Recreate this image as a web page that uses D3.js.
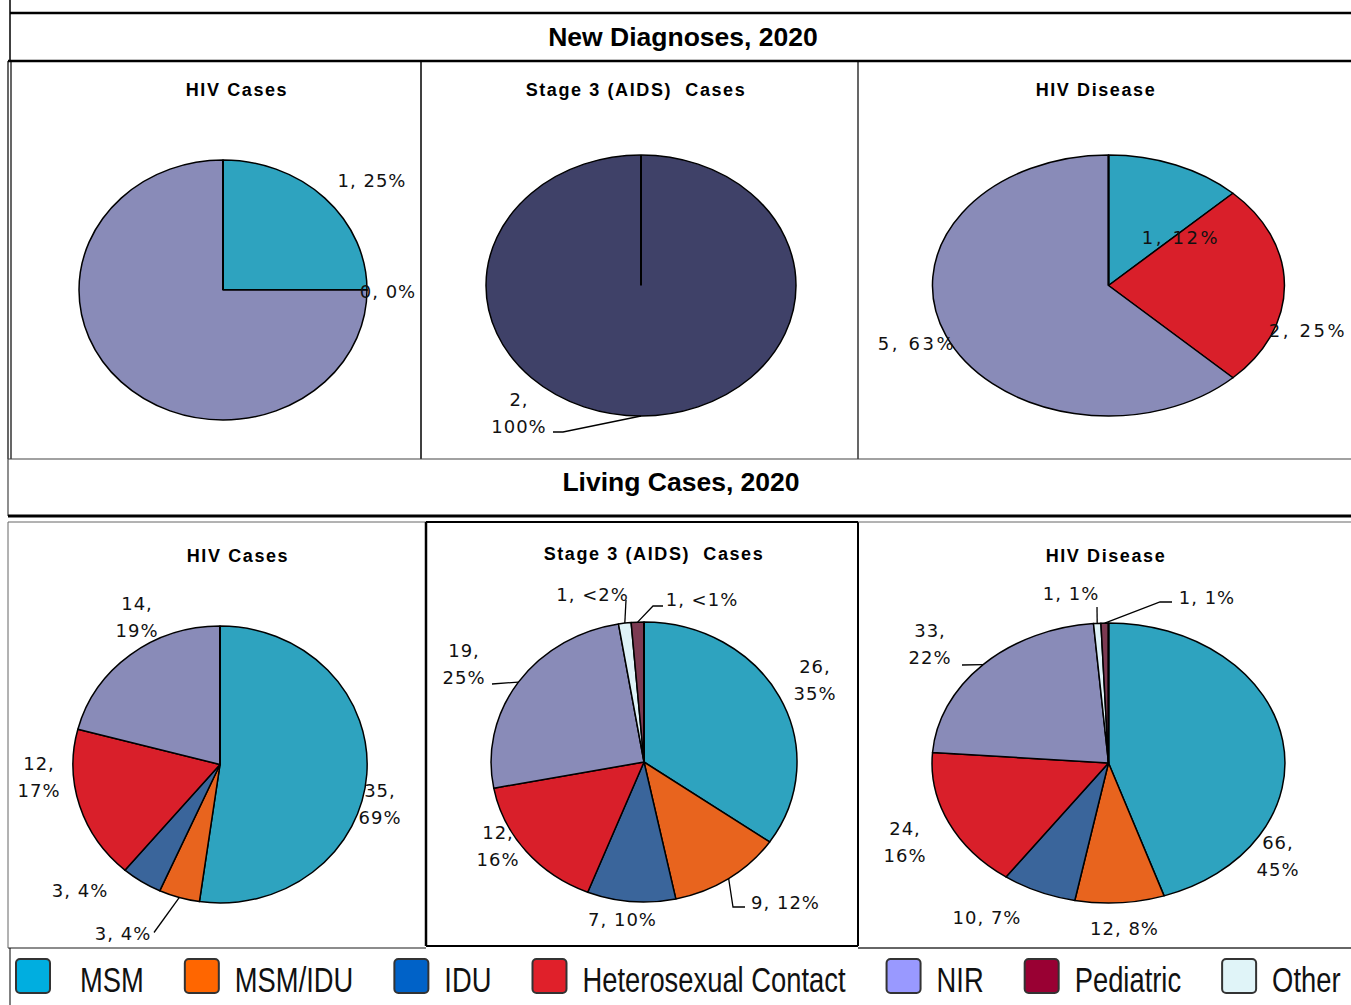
<!DOCTYPE html>
<html>
<head>
<meta charset="utf-8">
<script src="https://cdn.jsdelivr.net/npm/d3@7"></script>
<style>
  body { margin: 0; background: #fff; }
  svg { display: block; }
</style>
</head>
<body>
<div id="chart"></div>
<script>
// legend order of the transmission categories
var categories = ["MSM", "MSM/IDU", "IDU", "Heterosexual Contact", "NIR", "Pediatric", "Other"];
// order the slices go round the pie, clockwise from 12 o'clock
var sliceOrder = ["MSM", "MSM/IDU", "IDU", "Heterosexual Contact", "NIR", "Other", "Pediatric"];

// New Diagnoses, 2020 (null = category not in that chart)
var newHivCounts = [1, null, null, 0, 3, null, null];
var newHivPct = ["25%", null, null, "0%", null, null, null];
var newStage3Cats = ["Stage 3"];
var newStage3Counts = [2];
var newStage3Pct = ["100%"];
var newDiseaseCounts = [1, null, null, 2, 5, null, null];
var newDiseasePct = ["12%", null, null, "25%", "63%", null, null];

// Living Cases, 2020
var livingHivCounts = [35, 3, 3, 12, 14, null, null];
var livingHivPct = ["69%", "4%", "4%", "17%", "19%", null, null];
var livingStage3Counts = [26, 9, 7, 12, 19, 1, 1];
var livingStage3Pct = ["35%", "12%", "10%", "16%", "25%", "<2%", "<1%"];
var livingDiseaseCounts = [66, 12, 10, 24, 33, 1, 1];
var livingDiseasePct = ["45%", "8%", "7%", "16%", "22%", "1%", "1%"];

// colours of the pie slices and of the legend boxes
var sliceColor = {
  "MSM": "#2ea3bf", "MSM/IDU": "#e8641e", "IDU": "#3a659b",
  "Heterosexual Contact": "#d91f2a", "NIR": "#898bb8",
  "Pediatric": "#7c3a52", "Other": "#dff3f8", "Stage 3": "#3f4168"
};
var legendColor = {
  "MSM": "#00aee0", "MSM/IDU": "#ff6600", "IDU": "#0062c8",
  "Heterosexual Contact": "#e0202a", "NIR": "#9999ff",
  "Pediatric": "#990033", "Other": "#e0f4f8"
};

var width = 1351, height = 1005;
var svg = d3.select("#chart").append("svg")
  .attr("width", width)
  .attr("height", height);

// ---- frame lines of the table the charts sit in ----
function rule(x1, y1, x2, y2, w, c) {
  svg.append("line")
    .attr("x1", x1).attr("y1", y1).attr("x2", x2).attr("y2", y2)
    .attr("stroke", c || "#000").attr("stroke-width", w);
}
rule(10, 0, 10, 61, 1.5);
rule(10, 13, 1351, 13, 2.5);
rule(8, 61, 1351, 61, 2.5);
rule(8, 61, 8, 459, 1.2); rule(11, 61, 11, 459, 1.2);
rule(421, 61, 421, 459, 1.5);
rule(858, 61, 858, 459, 1.2);
rule(8, 459, 1351, 459, 1.2, "#444");
rule(8, 459, 8, 516, 1.2, "#444");
rule(8, 516, 1351, 516, 3);
rule(8, 522, 426, 522, 1, "#666");
rule(8, 522, 8, 948, 1, "#666");
rule(8, 948, 426, 948, 1.5, "#666");
rule(426, 522, 858, 522, 2);
rule(426, 522, 426, 946, 2.5);
rule(858, 522, 858, 946, 2);
rule(426, 946, 858, 946, 2);
rule(858, 522, 1351, 522, 1, "#666");
rule(858, 948, 1351, 948, 2, "#666");
rule(10, 948, 10, 1005, 1);

// section banners
svg.selectAll(".banner")
  .data([{ t: "New Diagnoses, 2020", x: 683, y: 46 }, { t: "Living Cases, 2020", x: 681, y: 491 }])
  .enter().append("text")
  .attr("class", "banner")
  .attr("x", function (d) { return d.x; })
  .attr("y", function (d) { return d.y; })
  .attr("text-anchor", "middle")
  .attr("font-family", "Liberation Sans, Arial, sans-serif")
  .attr("font-weight", "bold")
  .attr("font-size", 26.5)
  .text(function (d) { return d.t; });

// ---- pie panels: values + where each one sits ----
var panels = [
  { title: "HIV Cases", tx: 237, ty: 96, cats: sliceOrder, counts: newHivCounts, pct: newHivPct,
    cx: 223, cy: 290, rx: 144, ry: 130, ls: 1,
    labels: { "MSM": { at: [149, -110] }, "Heterosexual Contact": { at: [165, 1] } } },
  { title: "Stage 3 (AIDS)  Cases", tx: 636, ty: 96, cats: newStage3Cats, counts: newStage3Counts, pct: newStage3Pct,
    cx: 641, cy: 285.5, rx: 155, ry: 130.5, ls: 1,
    labels: { "Stage 3": { at: [-122, 127], wrap: true, leader: [[-78, 146.5], [-88, 146.5]] } } },
  { title: "HIV Disease", tx: 1096, ty: 96, cats: sliceOrder, counts: newDiseaseCounts, pct: newDiseasePct,
    cx: 1108.5, cy: 285.5, rx: 176, ry: 130.5, ls: 2.6,
    labels: { "MSM": { at: [72.5, -48.5] }, "Heterosexual Contact": { at: [199.5, 44.5] }, "NIR": { at: [-191.5, 57.5] } } },
  { title: "HIV Cases", tx: 238, ty: 562, cats: sliceOrder, counts: livingHivCounts, pct: livingHivPct,
    cx: 220, cy: 764.5, rx: 147, ry: 138.5, ls: 1,
    labels: {
      "MSM": { at: [160, 39], wrap: true },
      "MSM/IDU": { at: [-97, 168.5], leader: [[-66, 168]] },
      "IDU": { at: [-140, 125.5] },
      "Heterosexual Contact": { at: [-181, 12], wrap: true },
      "NIR": { at: [-83, -148], wrap: true }
    } },
  { title: "Stage 3 (AIDS)  Cases", tx: 654, ty: 560, cats: sliceOrder, counts: livingStage3Counts, pct: livingStage3Pct,
    cx: 644, cy: 762, rx: 153, ry: 140, ls: 1,
    labels: {
      "MSM": { at: [171, -82.5], wrap: true },
      "MSM/IDU": { at: [141.5, 140], leader: [[89, 145], [101, 145]] },
      "IDU": { at: [-21.5, 157] },
      "Heterosexual Contact": { at: [-146, 84], wrap: true },
      "NIR": { at: [-180, -98.5], wrap: true, leader: [[-152, -78]] },
      "Other": { at: [-51.5, -168], leader: [[-18, -162]] },
      "Pediatric": { at: [58, -163], leader: [[9, -156], [19, -156]] }
    } },
  { title: "HIV Disease", tx: 1106, ty: 562, cats: sliceOrder, counts: livingDiseaseCounts, pct: livingDiseasePct,
    cx: 1108.5, cy: 763, rx: 176.5, ry: 140, ls: 1,
    labels: {
      "MSM": { at: [169.5, 92.5], wrap: true },
      "MSM/IDU": { at: [16, 165] },
      "IDU": { at: [-121.5, 154] },
      "Heterosexual Contact": { at: [-203.5, 78.5], wrap: true },
      "NIR": { at: [-178.5, -119], wrap: true, leader: [[-146.5, -98]] },
      "Other": { at: [-37.5, -170], leader: [[-11.5, -156]] },
      "Pediatric": { at: [98.5, -166], leader: [[51.5, -161], [63.5, -161]] }
    } }
];

var pie = d3.pie().sort(null).value(function (d) { return d.v; });
var arc = d3.arc().innerRadius(0).outerRadius(1);

panels.forEach(function (p) {
  // panel title
  svg.append("text")
    .attr("x", p.tx).attr("y", p.ty)
    .attr("text-anchor", "middle")
    .attr("font-family", "Liberation Sans, Arial, sans-serif")
    .attr("font-weight", "bold")
    .attr("font-size", 18)
    .attr("letter-spacing", 1.6)
    .style("white-space", "pre")
    .text(p.title);

  var rows = [];
  p.cats.forEach(function (c, i) {
    if (p.counts[i] !== null) rows.push({ cat: c, v: p.counts[i], pct: p.pct[i] });
  });
  var arcs = pie(rows);

  // the pie is drawn on a unit circle and stretched into an ellipse
  var g = svg.append("g")
    .attr("transform", "translate(" + p.cx + "," + p.cy + ") scale(" + p.rx + "," + p.ry + ")");
  g.selectAll("path")
    .data(arcs)
    .enter().append("path")
    .attr("d", arc)
    .attr("fill", function (d) { return sliceColor[d.data.cat]; })
    .attr("stroke", "#000")
    .attr("stroke-width", 1.5)
    .attr("stroke-linejoin", "round")
    .attr("vector-effect", "non-scaling-stroke");
  // radius at 12 o'clock (start of first slice)
  g.append("line")
    .attr("x1", 0).attr("y1", 0).attr("x2", 0).attr("y2", -1)
    .attr("stroke", "#000").attr("stroke-width", 2)
    .attr("vector-effect", "non-scaling-stroke");

  // data labels "count, pct"
  var lg = svg.append("g").attr("transform", "translate(" + p.cx + "," + p.cy + ")");
  arcs.forEach(function (a) {
    var lay = p.labels[a.data.cat];
    if (!lay || a.data.pct === null) return;
    if (lay.leader) {
      var mid = (a.startAngle + a.endAngle) / 2;
      var pts = [[p.rx * Math.sin(mid), -p.ry * Math.cos(mid)]].concat(lay.leader);
      lg.append("path")
        .attr("d", d3.line()(pts))
        .attr("fill", "none")
        .attr("stroke", "#000")
        .attr("stroke-width", 1.3);
    }
    var lines = lay.wrap ? [a.data.v + ",", a.data.pct] : [a.data.v + ", " + a.data.pct];
    var t = lg.append("text")
      .attr("text-anchor", "middle")
      .attr("font-family", "DejaVu Sans, Verdana, sans-serif")
      .attr("font-size", 18)
      .attr("letter-spacing", p.ls)
      .attr("fill", "#111");
    lines.forEach(function (s, i) {
      t.append("tspan")
        .attr("x", lay.at[0])
        .attr("y", lay.at[1] + 6.5 + (i - (lines.length - 1) / 2) * 27)
        .text(s);
    });
  });
});

// ---- legend along the bottom ----
var legend = svg.append("g");
var lx = 16;
categories.forEach(function (c, i) {
  legend.append("rect")
    .attr("x", lx).attr("y", 959)
    .attr("width", 34).attr("height", 34)
    .attr("rx", 4)
    .attr("fill", legendColor[c])
    .attr("stroke", "#333")
    .attr("stroke-width", 2);
  var tx = lx + 34 + (i === 0 ? 30 : 16);
  var t = legend.append("text")
    .attr("transform", "translate(" + tx + ",992) scale(0.76,1)")
    .attr("font-family", "Liberation Sans, Arial, sans-serif")
    .attr("font-size", 36)
    .attr("fill", "#111")
    .text(c);
  lx = tx + t.node().getComputedTextLength() * 0.76 + 41;
});
</script>
</body>
</html>
